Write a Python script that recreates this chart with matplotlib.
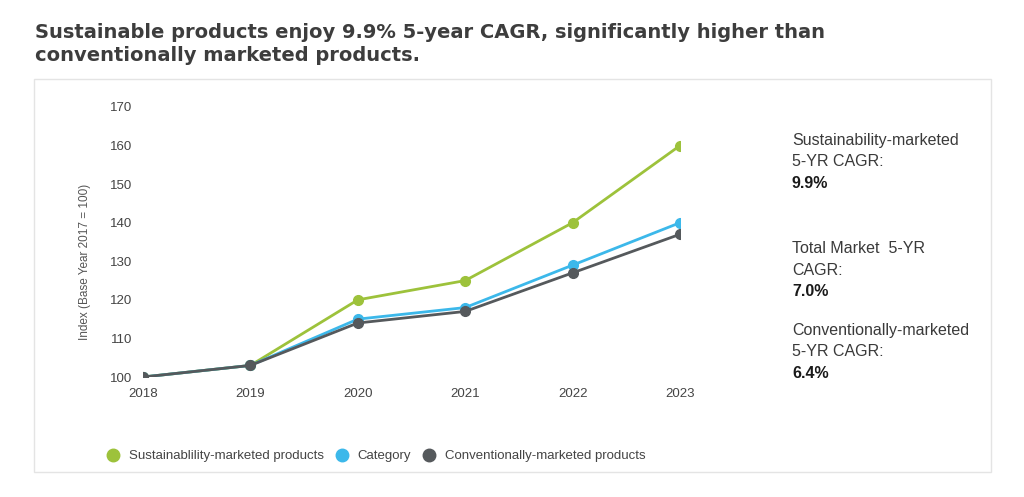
import matplotlib
matplotlib.use('Agg')
import matplotlib.pyplot as plt
from matplotlib.lines import Line2D
from matplotlib.patches import Rectangle

# Data
#-----
years = [2018, 2019, 2020, 2021, 2022, 2023]
sustain = [100, 103, 120, 125, 140, 160]
category = [100, 103, 115, 118, 129, 140]
conventional = [100, 103, 114, 117, 127, 137]

series_names = ['Sustainablility-marketed products', 'Category', 'Conventionally-marketed products']
cagr_labels = [['Sustainability-marketed', '5-YR CAGR:'],
               ['Total Market  5-YR', 'CAGR:'],
               ['Conventionally-marketed', '5-YR CAGR:']]
cagr_values = ['9.9%', '7.0%', '6.4%']

green = '#9dc23b'
blue = '#3cb8ea'
grey = '#55595c'
txt = '#3a3a3a'

plt.rcParams['font.family'] = ['Liberation Sans', 'DejaVu Sans']

fig = plt.figure(figsize=(10.24, 4.97), dpi=100)

# light frame around the chart
fig.patches.append(Rectangle((34/1024, 1-472/497), (991-34)/1024, (472-79)/497,
                             transform=fig.transFigure, fill=False, ec='#e4e4e4', lw=1))

fig.text(35/1024, 1-38/497, 'Sustainable products enjoy 9.9% 5-year CAGR, significantly higher than',
         fontsize=14.05, fontweight='bold', family='DejaVu Sans', color='#3d3d3d', va='baseline')
fig.text(35/1024, 1-61/497, 'conventionally marketed products.',
         fontsize=14.05, fontweight='bold', family='DejaVu Sans', color='#3d3d3d', va='baseline')

ax = fig.add_axes([143/1024, 1-377/497, (680-143)/1024, (377-107)/497])
ax.plot(years, sustain, color=green, lw=2, marker='o', ms=7)
ax.plot(years, category, color=blue, lw=2, marker='o', ms=7)
ax.plot(years, conventional, color=grey, lw=2, marker='o', ms=7)
ax.set_xlim(2018, 2023)
ax.set_ylim(100, 170)
ax.set_xticks(years)
ax.set_yticks(range(100, 171, 10))
for s in ax.spines.values():
    s.set_visible(False)
ax.tick_params(length=0, labelsize=9.5, labelcolor='#444444')
ax.tick_params(axis='x', pad=8)
ax.tick_params(axis='y', pad=7.5)
ax.set_ylabel('Index (Base Year 2017 = 100)', fontsize=8.5, color='#555555')
ax.yaxis.set_label_coords(-0.097, 0.426)

# CAGR notes on the right
ys = [140, 249, 330]
for lines, val, y in zip(cagr_labels, cagr_values, ys):
    for k, line in enumerate(lines):
        fig.text(792/1024, 1-(y+k*21.5)/497, line, fontsize=11.5, color=txt, va='center')
    fig.text(792/1024, 1-(y+43)/497, val, fontsize=11.5, color='#1a1a1a', fontweight='bold', va='center')

# legend
handles = [Line2D([], [], ls='', marker='o', ms=9, color=c) for c in (green, blue, grey)]
fig.legend(handles, series_names, loc='center left', bbox_to_anchor=(88/1024, 1-456/497),
           ncol=3, frameon=False, fontsize=9.5, handletextpad=0.2, columnspacing=0.35,
           labelcolor='#444444')

fig.savefig('out.png', dpi=100)
